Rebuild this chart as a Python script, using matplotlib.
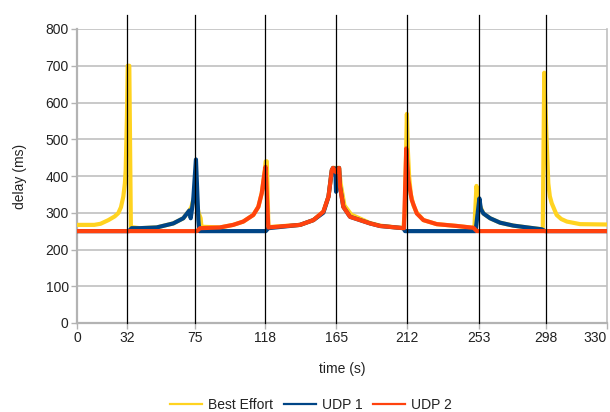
import numpy as np
import matplotlib
matplotlib.use("Agg")
import matplotlib.pyplot as plt
from matplotlib.lines import Line2D

# --------------------------------------------------------------------------
# data (time in s, delay in ms)
# --------------------------------------------------------------------------
events = [0, 32, 75, 118, 165, 212, 253, 298, 330]          # tick labels / markers
# where the labelled ticks sit on the (slightly uneven) original axis
event_pos = [0, 31.3, 73.7, 117.1, 161.4, 205.8, 250.5, 292.2, 330]

be_t = [0, 11, 15, 20, 24, 26.3, 28, 29.5, 30.5, 31, 31.8, 32.3, 33.3, 34.3,
        40, 50.6, 61.1, 67.4, 71.2, 72.5, 73.7, 75, 77, 78.3, 78.8, 90.2,
        98.4, 104.6, 110.8, 113.9, 116, 117.4, 118.5, 119.2, 120.3, 141.2,
        150, 156.6, 160, 162.2, 163, 167, 168, 170.5, 175, 187.4, 194, 209.4,
        210.3, 211.7, 212.3, 213, 214, 215.5, 217.4, 221.2, 228.8, 240.3,
        249.8, 250.3, 251.5, 252.5, 253.5, 255.9, 260.4, 267.1, 276, 287.3,
        295.1, 295.8, 296.8, 298.3, 299.2, 300, 301, 303.6, 306, 309, 316, 330]
be_v = [267, 267, 270, 280, 290, 299, 315, 344, 380, 416, 560, 700, 700, 261,
        258, 260, 271, 285, 306, 315, 335, 350, 300, 285, 262, 260,
        267, 276, 294, 316, 353, 398, 440, 440, 261, 267,
        280, 303, 344, 416, 422, 422, 380, 320, 295, 272, 265, 258,
        300, 569, 470, 400, 350, 320, 300, 280, 269, 264,
        259, 258, 373, 340, 320, 298, 285, 273, 265, 259,
        255, 255, 681, 500, 380, 345, 326, 294, 283, 276, 269, 268]

u1_t = [0, 33, 34.8, 40, 50.6, 61.1, 67.4, 71.2, 72.1, 73.7, 75.4, 76.9, 77.5,
        118.5, 120.2, 141.2, 150, 156.6, 160, 162.2, 163, 164.5, 165, 165.5,
        167, 167.6, 169.8, 174.2, 187.4, 194, 209.4, 210.5, 251, 253.2, 254.2,
        255.9, 260.4, 267.1, 276, 287.3, 295.1, 297.4, 330]
u1_v = [250, 250, 258, 258, 260, 271, 285, 306, 285, 335, 445, 280, 250,
        250, 258, 267, 280, 300, 344, 416, 422, 420, 357, 420,
        422, 371, 316, 289, 271, 264, 258, 250, 250, 339, 310,
        298, 285, 273, 265, 259, 255, 250, 250]

u2_t = [0, 76, 77.9, 90.2, 98.4, 104.6, 110.8, 113.9, 116, 117.4, 118.4, 120.2,
        141.2, 150, 156.6, 160, 162.2, 163, 165, 167, 167.6, 169.8, 174.2,
        187.4, 194, 209.8, 211.3, 212.6, 214.5, 217.4, 221.2, 228.8, 240.3,
        249.8, 251.7, 330]
u2_v = [250, 250, 258, 260, 267, 276, 294, 316, 353, 398, 425, 260,
        267, 280, 303, 344, 416, 422, 410, 422, 371, 316, 289,
        271, 264, 258, 475, 389, 335, 298, 280, 269, 264,
        259, 250, 250]

series = [("Best Effort", be_t, be_v, "#ffd320"),
          ("UDP 1", u1_t, u1_v, "#004586"),
          ("UDP 2", u2_t, u2_v, "#ff420e")]

# --------------------------------------------------------------------------
plt.rcParams.update({"font.family": ["Liberation Sans", "DejaVu Sans"],
                     "font.size": 10})
GRID = "#c0c0c0"

fig = plt.figure(figsize=(6.10, 4.12), dpi=100)
ax = fig.add_axes([77/610, 1-323/412, 529.7/610, 294/412])

fwd = lambda x: np.interp(x, events, event_pos)
inv = lambda x: np.interp(x, event_pos, events)
ax.set_xscale("function", functions=(fwd, inv))

for name, t, v, c in series:
    ax.plot(t, v, color=c, lw=3.0, solid_joinstyle="round", zorder=3)

for e in events[1:-1]:
    ax.axvline(e, ymin=0, ymax=1.048, color="black", lw=0.9, clip_on=False,
               zorder=4)

ax.set_xlim(0, 330)
ax.set_ylim(0, 800)
ax.set_xticks(events)
ax.set_yticks(range(0, 801, 100))
ax.yaxis.grid(True, color=GRID, lw=1.2)
ax.set_axisbelow(True)
for s in ["left", "bottom"]:
    ax.spines[s].set_color("#b3b3b3")
    ax.spines[s].set_linewidth(1.6)
ax.spines["top"].set_visible(False)
ax.spines["right"].set_color(GRID)
ax.spines["right"].set_linewidth(1.2)
ax.tick_params(length=4, width=1, color="#b3b3b3", labelsize=10,
               labelcolor="#222222", pad=2)
# last label is pushed inside the figure edge, as in the original
ax.get_xticklabels()[-1].set_horizontalalignment("right")

ax.set_xlabel("time (s)", fontsize=10, color="#222222", labelpad=12)
ax.set_ylabel("delay (ms)", fontsize=10, color="#222222", labelpad=13)

handles = [Line2D([], [], color=c, lw=1.6) for _, _, _, c in series]
fig.legend(handles, [s[0] for s in series], loc="center",
           bbox_to_anchor=(311/610, 1-405/412), ncol=3, frameon=False,
           handlelength=2.3, handletextpad=0.4, columnspacing=0.8,
           fontsize=10, labelcolor="#222222")

fig.savefig("out.png", dpi=100)
